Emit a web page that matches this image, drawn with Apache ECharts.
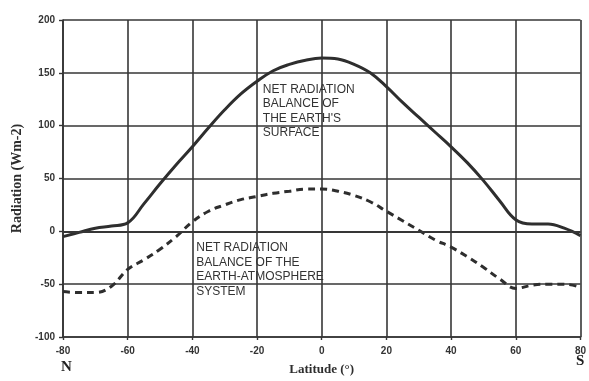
<!DOCTYPE html>
<html>
<head>
<meta charset="utf-8">
<script src="https://cdn.jsdelivr.net/npm/echarts@6/dist/echarts.min.js"></script>
<style>
  html, body { margin: 0; padding: 0; background: #ffffff; }
  #chart { width: 589px; height: 381px; }
</style>
</head>
<body>
<div id="chart"></div>
<script>
// Latitude positions (degrees, north negative)
const latitudes = [-80, -75, -70, -65, -60, -55, -50, -45, -40, -35, -30, -25, -20, -15, -10, -5,
                   0, 5, 10, 15, 20, 25, 30, 35, 40, 45, 50, 55, 60, 65, 70, 75, 80];

// Net radiation balance of the earth's surface (W m-2)
const surfaceBalance = [-5, -1, 3, 5, 8, 26, 45, 63, 80, 98, 115, 130, 142, 152, 158, 162,
                        164, 163, 158, 150, 137, 122, 108, 94, 80, 65, 48, 29, 11, 7, 7, 3, -4];

// Net radiation balance of the earth-atmosphere system (W m-2)
const systemBalance = [-57, -58, -58, -52, -36, -27, -17, -5, 9, 19, 25, 30, 33, 36, 38, 40,
                       40, 38, 34, 28, 19, 10, 1, -8, -15, -24, -34, -45, -54, -51, -50, -50, -53];

// Axis ticks
const xTicks = [-80, -60, -40, -20, 0, 20, 40, 60, 80];
const yTicks = [-100, -50, 0, 50, 100, 150, 200];

const surfaceLabel = ['NET RADIATION', 'BALANCE OF', "THE EARTH'S", 'SURFACE'];
const systemLabel = ['NET RADIATION', 'BALANCE OF THE', 'EARTH-ATMOSPHERE', 'SYSTEM'];

const ink = '#2e2e2e';
const gridInk = '#363636';

const pairs = (ys) => latitudes.map((x, i) => [x, ys[i]]);

const chart = echarts.init(document.getElementById('chart'), null, { renderer: 'canvas' });

chart.setOption({
  backgroundColor: '#ffffff',
  animation: false,
  grid: { left: 63, right: 8, top: 20, bottom: 43, containLabel: false },
  xAxis: {
    type: 'value',
    min: xTicks[0],
    max: xTicks[xTicks.length - 1],
    interval: 20,
    name: 'Latitude (°)',
    nameLocation: 'middle',
    nameGap: 26,
    nameTextStyle: { fontFamily: 'Liberation Serif', fontWeight: 'bold', fontSize: 13, color: ink },
    axisLine: { show: true, onZero: false, lineStyle: { color: gridInk, width: 1.7 } },
    axisTick: { show: true, length: 3, inside: false, lineStyle: { color: gridInk, width: 1.4 } },
    axisLabel: { margin: 9, fontFamily: 'Liberation Sans', fontWeight: 'bold', fontSize: 10, color: '#333' },
    splitLine: { show: true, lineStyle: { color: gridInk, width: 1.6 } }
  },
  yAxis: {
    type: 'value',
    min: yTicks[0],
    max: yTicks[yTicks.length - 1],
    interval: 50,
    name: 'Radiation (Wm-2)',
    nameLocation: 'middle',
    nameGap: 35,
    nameTextStyle: { fontFamily: 'Liberation Serif', fontWeight: 'bold', fontSize: 14, color: ink },
    axisLine: { show: true, onZero: false, lineStyle: { color: gridInk, width: 1.7 } },
    axisTick: { show: true, length: 4, lineStyle: { color: gridInk, width: 1.4 } },
    axisLabel: { margin: 8, fontFamily: 'Liberation Sans', fontWeight: 'bold', fontSize: 10, color: '#333' },
    splitLine: { show: true, lineStyle: { color: gridInk, width: 1.6 } }
  },
  series: [
    {
      name: "Net radiation balance of the earth's surface",
      type: 'line',
      data: pairs(surfaceBalance),
      smooth: 0.4,
      showSymbol: false,
      lineStyle: { color: ink, width: 3 },
      // zero reference line, drawn a touch heavier than the grid
      markLine: {
        silent: true,
        symbol: 'none',
        label: { show: false },
        lineStyle: { color: gridInk, width: 2, type: 'solid' },
        data: [{ yAxis: 0 }]
      },
      z: 3
    },
    {
      name: 'Net radiation balance of the earth-atmosphere system',
      type: 'line',
      data: pairs(systemBalance),
      smooth: 0.4,
      showSymbol: false,
      lineStyle: { color: ink, width: 3, type: [7, 5] },
      z: 3
    }
  ]
});

// Place the curve captions and hemisphere letters
function placeText() {
  const p1 = chart.convertToPixel({ gridIndex: 0 }, [-18.2, 141]);
  const p2 = chart.convertToPixel({ gridIndex: 0 }, [-38.8, -9]);
  const textStyle = { fontFamily: 'Liberation Sans', fontSize: 12, fill: '#333', lineHeight: 14.5 };
  chart.setOption({
    graphic: [
      { type: 'text', x: p1[0], y: p1[1], z: 10,
        style: Object.assign({ text: surfaceLabel.join('\n') }, textStyle) },
      { type: 'text', x: p2[0], y: p2[1], z: 10,
        style: Object.assign({ text: systemLabel.join('\n') }, textStyle) },
      { type: 'text', left: 61, top: 360, z: 10,
        style: { text: 'N', fontFamily: 'Liberation Serif', fontWeight: 'bold', fontSize: 15, fill: '#222' } },
      { type: 'text', left: 576, top: 354, z: 10,
        style: { text: 'S', fontFamily: 'Liberation Serif', fontWeight: 'bold', fontSize: 15, fill: '#222' } }
    ]
  });
}
placeText();
</script>
</body>
</html>
